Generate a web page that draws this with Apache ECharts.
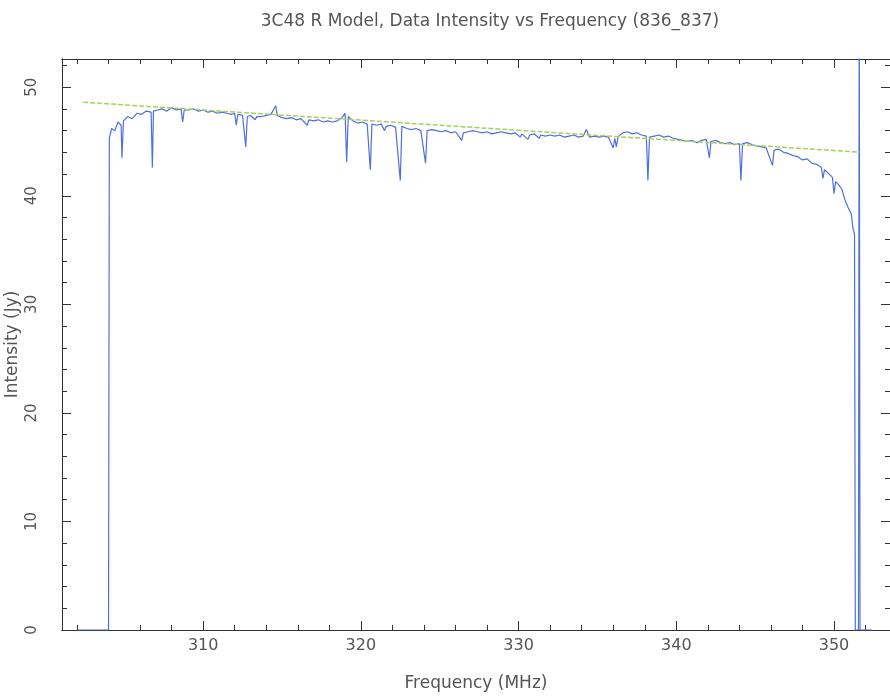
<!DOCTYPE html>
<html>
<head>
<meta charset="utf-8">
<script src="https://cdn.jsdelivr.net/npm/echarts@6/dist/echarts.min.js"></script>
<style>
html,body{margin:0;padding:0;background:#fff;}
#chart{width:890px;height:697px;}
</style>
</head>
<body>
<div id="chart"></div>
<script>
// ---- data ----
const freq = [
 302.0, 304.0, 304.05, 304.2, 304.4, 304.6, 304.8, 304.85, 304.95, 305.2, 305.5, 305.8, 306.1, 306.4, 306.7, 306.78, 306.85,
 307.1, 307.4, 307.7, 308.0, 308.3, 308.6, 308.7, 308.8, 309.1, 309.4, 309.7, 310.0, 310.3, 310.6, 310.9, 311.2, 311.5, 311.8,
 312.0, 312.1, 312.2, 312.5, 312.7, 312.8, 313.0, 313.3, 313.4, 313.7, 314.0, 314.3, 314.6, 314.7, 315.0, 315.3, 315.6, 315.9,
 316.2, 316.6, 316.7, 317.0, 317.3, 317.6, 317.9, 318.2, 318.5, 318.8, 319.0, 319.1, 319.2, 319.5, 319.8, 320.1, 320.4, 320.6,
 320.7, 321.0, 321.3, 321.5, 321.6, 321.9, 322.2, 322.5, 322.6, 322.9, 323.2, 323.5, 323.8, 324.1, 324.2, 324.5, 324.8, 325.1,
 325.4, 325.7, 326.0, 326.4, 326.5, 326.8, 327.1, 327.4, 327.7, 328.0, 328.3, 328.6, 328.9, 329.2, 329.5, 329.8, 330.1, 330.2,
 330.6, 330.7, 331.0, 331.3, 331.4, 331.7, 332.0, 332.3, 332.6, 332.9, 333.2, 333.5, 333.8, 334.1, 334.3, 334.5, 334.8, 335.1,
 335.4, 335.7, 336.0, 336.1, 336.2, 336.3, 336.6, 336.9, 337.2, 337.5, 337.8, 338.1, 338.2, 338.3, 338.6, 338.9, 339.2, 339.5,
 339.8, 340.1, 340.4, 340.7, 341.0, 341.3, 341.6, 341.9, 342.1, 342.2, 342.5, 342.8, 343.1, 343.4, 343.7, 344.0, 344.1, 344.2,
 344.5, 344.8, 345.1, 345.4, 345.7, 346.1, 346.2, 346.5, 346.8, 347.1, 347.4, 347.7, 348.0, 348.3, 348.6, 348.9, 349.2, 349.3,
 349.4, 349.7, 349.9, 350.0, 350.1, 350.3, 350.5, 350.7, 350.9, 351.1, 351.2, 351.3, 351.35, 351.55, 351.6, 351.65, 352.4
];
const intensity = [
 0, 0, 45.3, 46.2, 46.0, 46.8, 46.5, 43.5, 46.9, 47.3, 47.1, 47.6, 47.5, 47.8, 47.7, 42.6, 47.8,
 47.9, 48.0, 47.8, 48.1, 47.9, 48.0, 46.8, 47.9, 47.9, 48.0, 47.8, 47.9, 47.7, 47.8, 47.6, 47.7, 47.6, 47.5,
 47.6, 46.5, 47.5, 47.4, 44.5, 47.3, 47.4, 47.0, 47.3, 47.3, 47.4, 47.5, 48.3, 47.4, 47.2, 47.1, 47.2, 47.0,
 47.1, 46.5, 47.0, 46.9, 47.0, 46.8, 46.9, 46.8, 46.9, 47.2, 47.6, 43.1, 47.3, 46.9, 46.7, 46.8, 46.6, 42.4,
 46.6, 46.5, 46.6, 46.0, 46.4, 46.5, 46.3, 41.4, 46.4, 46.2, 46.1, 46.2, 46.0, 43.0, 46.0, 46.1, 46.0, 45.9,
 46.0, 45.8, 45.9, 45.1, 45.8, 45.9, 46.0, 45.9, 45.8, 45.9, 45.7, 45.8, 45.9, 45.8, 45.7, 45.8, 45.4, 45.7,
 45.2, 45.6, 45.7, 45.3, 45.6, 45.5, 45.6, 45.5, 45.6, 45.4, 45.5, 45.6, 45.4, 45.5, 46.1, 45.4, 45.5, 45.4,
 45.5, 45.4, 44.4, 45.3, 44.5, 45.4, 45.8, 45.9, 45.7, 45.8, 45.6, 45.5, 41.4, 45.4, 45.5, 45.6, 45.4, 45.5,
 45.3, 45.2, 45.1, 45.0, 45.1, 44.9, 45.1, 45.2, 43.5, 45.0, 45.1, 44.9, 44.8, 44.9, 44.7, 44.8, 41.4, 44.8,
 44.9, 44.7, 44.6, 44.5, 44.4, 42.8, 44.2, 44.3, 44.0, 43.9, 43.7, 43.6, 43.3, 43.4, 43.0, 42.9, 42.6, 41.6,
 42.4, 42.0, 41.7, 40.2, 41.3, 41.0, 40.6, 39.6, 38.9, 38.3, 37.0, 36.5, 0, 0, 60, 0, 0
];
const modelFreq = [302.4, 310, 320, 330, 340, 351.6];
const modelIntensity = [48.62, 47.90, 46.97, 46.03, 45.10, 44.02];

const xMajorTicks = [310, 320, 330, 340, 350];
const xMinorTicks = [302, 304, 306, 308, 312, 314, 316, 318, 322, 324, 326, 328, 332, 334, 336, 338, 342, 344, 346, 348, 352];
const yMajorTicks = [0, 10, 20, 30, 40, 50];
const yMinorTicks = [2, 4, 6, 8, 12, 14, 16, 18, 22, 24, 26, 28, 32, 34, 36, 38, 42, 44, 46, 48, 52];

const titleText = '3C48 R Model, Data Intensity vs Frequency (836_837)';
const xName = 'Frequency (MHz)';
const yName = 'Intensity (Jy)';

// ---- chart ----
const X_MIN = 301.05, X_MAX = 353.55, Y_MIN = 0, Y_MAX = 52.6;
const FONT = 'DejaVu Sans';
const TXT = '#555';
const AX = '#333';

const dataPairs = freq.map((f, i) => [f, intensity[i]]);
const modelPairs = modelFreq.map((f, i) => [f, modelIntensity[i]]);

function xAxisDef(pos, ticks, len, labels) {
  return {
    type: 'value', position: pos, min: X_MIN, max: X_MAX,
    axisLine: { show: true, onZero: false, lineStyle: { color: AX, width: 1 } },
    axisTick: { show: true, inside: true, length: len, customValues: ticks, lineStyle: { color: AX } },
    axisLabel: labels ? { show: true, customValues: xMajorTicks, color: TXT, fontFamily: FONT, fontSize: 16, margin: 8 } : { show: false },
    splitLine: { show: false },
    name: labels ? xName : '',
    nameLocation: 'middle', nameGap: 45, nameMoveOverlap: false,
    nameTextStyle: { color: TXT, fontFamily: FONT, fontSize: 17 }
  };
}
function yAxisDef(pos, ticks, len, labels) {
  return {
    type: 'value', position: pos, min: Y_MIN, max: Y_MAX,
    axisLine: { show: true, onZero: false, lineStyle: { color: AX, width: 1 } },
    axisTick: { show: true, inside: true, length: len, customValues: ticks, lineStyle: { color: AX } },
    axisLabel: labels ? { show: true, customValues: yMajorTicks, rotate: 90, color: TXT, fontFamily: FONT, fontSize: 15, margin: 22 } : { show: false },
    splitLine: { show: false },
    name: labels ? yName : '',
    nameLocation: 'middle', nameGap: 41, nameRotate: 90, nameMoveOverlap: false,
    nameTextStyle: { color: TXT, fontFamily: FONT, fontSize: 17 }
  };
}

const chart = echarts.init(document.getElementById('chart'), null, { renderer: 'canvas' });
chart.setOption({
  animation: false,
  backgroundColor: '#fff',
  title: {
    text: titleText, left: 485, top: 8, textAlign: 'center',
    textStyle: { color: TXT, fontFamily: FONT, fontSize: 17, fontWeight: 'normal' }
  },
  grid: { left: 62, right: 0, top: 59, bottom: 67, containLabel: false, outerBoundsMode: 'none' },
  xAxis: [
    xAxisDef('bottom', xMajorTicks, 9, true),
    xAxisDef('bottom', xMinorTicks, 5, false),
    xAxisDef('top', xMajorTicks, 9, false),
    xAxisDef('top', xMinorTicks, 5, false)
  ],
  yAxis: [
    yAxisDef('left', yMajorTicks, 9, true),
    yAxisDef('left', yMinorTicks, 5, false),
    yAxisDef('right', yMajorTicks, 9, false),
    yAxisDef('right', yMinorTicks, 5, false)
  ],
  series: [
    {
      type: 'line', name: 'Data', data: dataPairs, xAxisIndex: 0, yAxisIndex: 0,
      showSymbol: false, symbol: 'none', clip: true,
      lineStyle: { color: '#4f6fdc', width: 1.2 }
    },
    {
      type: 'line', name: 'Model', data: modelPairs, xAxisIndex: 0, yAxisIndex: 0,
      showSymbol: false, symbol: 'none', smooth: true, clip: true,
      lineStyle: { color: '#a8d05a', width: 1.5, type: [5, 2] }
    }
  ]
});
</script>
</body>
</html>
